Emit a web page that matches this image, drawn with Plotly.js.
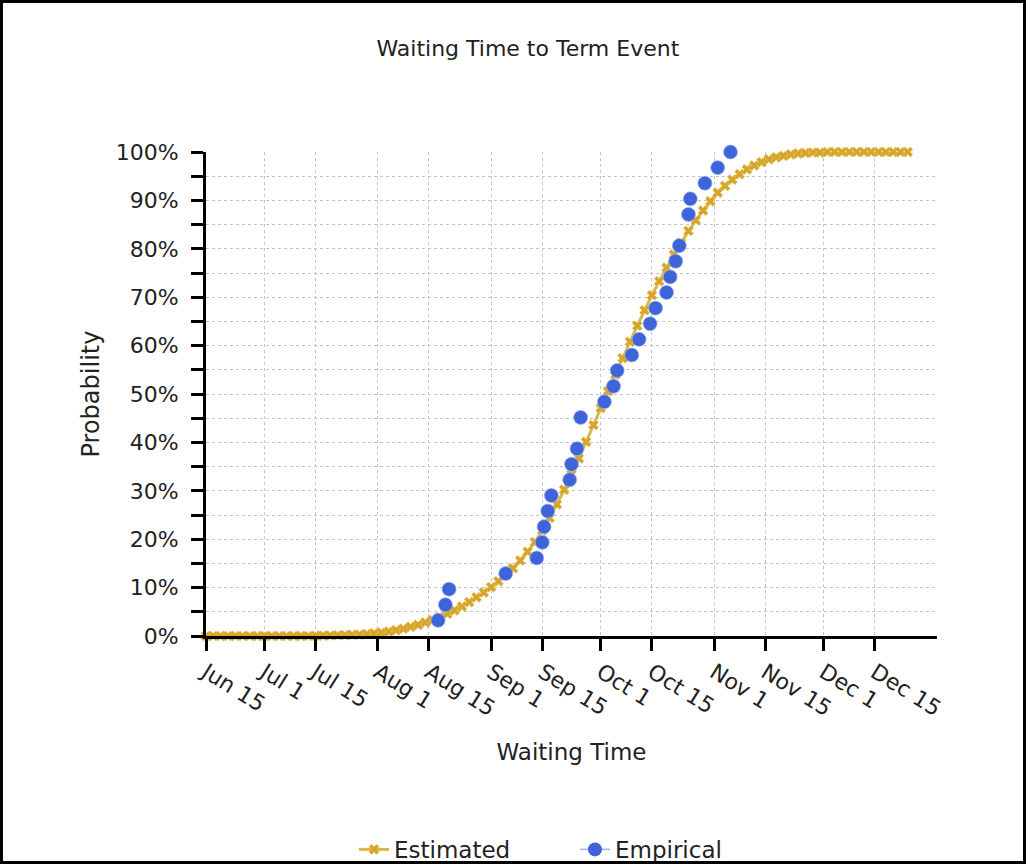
<!DOCTYPE html>
<html>
<head>
<meta charset="utf-8">
<script src="https://cdn.plot.ly/plotly-3.0.1.min.js"></script>
<style>
  html, body { margin: 0; padding: 0; background: #ffffff; }
  #wrap { position: relative; width: 1029px; height: 865px; }
  #chart { width: 1029px; height: 865px; }
  #frame { position: absolute; left: 0; top: 0; width: 1026px; height: 864px;
           border: 3px solid #000; box-sizing: border-box; pointer-events: none; }
</style>
</head>
<body>
<div id="wrap">
  <div id="chart"></div>
  <div id="frame"></div>
</div>
<script>
// ---- Tick labels of the date axis ----
const tickDates = ['2009-06-15','2009-07-01','2009-07-15','2009-08-01','2009-08-15','2009-09-01',
  '2009-09-15','2009-10-01','2009-10-15','2009-11-01','2009-11-15','2009-12-01','2009-12-15'];
const tickLabels = ['Jun 15','Jul 1','Jul 15','Aug 1','Aug 15','Sep 1','Sep 15','Oct 1','Oct 15',
  'Nov 1','Nov 15','Dec 1','Dec 15'];

const yTickVals = [0,10,20,30,40,50,60,70,80,90,100];
const yTickText = ['0%','10%','20%','30%','40%','50%','60%','70%','80%','90%','100%'];

// ---- Estimated curve (every 2 days), probability in % ----
const estDates = [
  '2009-06-15','2009-06-17','2009-06-19','2009-06-21','2009-06-23','2009-06-25','2009-06-27','2009-06-29',
  '2009-07-01','2009-07-03','2009-07-05','2009-07-07','2009-07-09','2009-07-11','2009-07-13','2009-07-15',
  '2009-07-17','2009-07-19','2009-07-21','2009-07-23','2009-07-25','2009-07-27','2009-07-29','2009-07-31',
  '2009-08-02','2009-08-04','2009-08-06','2009-08-08','2009-08-10','2009-08-12','2009-08-14','2009-08-16',
  '2009-08-18','2009-08-20','2009-08-22','2009-08-24','2009-08-26','2009-08-28','2009-08-30',
  '2009-09-01','2009-09-03','2009-09-05','2009-09-07','2009-09-09','2009-09-11','2009-09-13','2009-09-15',
  '2009-09-17','2009-09-19','2009-09-21','2009-09-23','2009-09-25','2009-09-27','2009-09-29',
  '2009-10-01','2009-10-03','2009-10-05','2009-10-07','2009-10-09','2009-10-11','2009-10-13','2009-10-15',
  '2009-10-17','2009-10-19','2009-10-21','2009-10-23','2009-10-25','2009-10-27','2009-10-29','2009-10-31',
  '2009-11-02','2009-11-04','2009-11-06','2009-11-08','2009-11-10','2009-11-12','2009-11-14','2009-11-16',
  '2009-11-18','2009-11-20','2009-11-22','2009-11-24','2009-11-26','2009-11-28','2009-11-30',
  '2009-12-02','2009-12-04','2009-12-06','2009-12-08','2009-12-10','2009-12-12','2009-12-14','2009-12-16',
  '2009-12-18','2009-12-20','2009-12-22','2009-12-24'
];
const estProb = [
  0,0,0,0,0,0,0,0,0,0,0,0,0,0,0,
  0.05,0.07,0.1,0.15,0.2,0.25,0.3,0.4,0.55,0.7,
  0.9,1.2,1.5,1.9,2.3,2.8,3.3,3.9,4.6,5.3,
  6.1,7.0,8.0,9.0,10.1,11.3,12.6,14.0,15.6,17.4,
  19.4,21.8,24.4,27.2,30.2,33.4,36.7,40.1,43.6,47.1,
  50.6,54.0,57.4,60.8,64.1,67.3,70.4,73.3,76.1,78.8,
  81.3,83.7,85.9,87.9,89.8,91.6,93.0,94.3,95.4,96.4,
  97.2,97.9,98.5,98.9,99.2,99.5,99.7,99.8,99.9,99.9,
  100,100,100,100,100,100,100,100,100,100,100,100
];

// ---- Empirical distribution points, probability in % ----
const empDates = [
  '2009-08-17 12:00','2009-08-19 12:00','2009-08-20 12:00','2009-09-05','2009-09-13 12:00',
  '2009-09-15','2009-09-15 12:00','2009-09-16 12:00','2009-09-17 12:00','2009-09-22 12:00',
  '2009-09-23','2009-09-24 12:00','2009-09-25 12:00','2009-10-02','2009-10-04 12:00',
  '2009-10-05 12:00','2009-10-09 12:00','2009-10-11 12:00','2009-10-14 12:00','2009-10-16',
  '2009-10-19','2009-10-20','2009-10-21 12:00','2009-10-22 12:00','2009-10-25',
  '2009-10-25 12:00','2009-10-29 12:00','2009-11-02','2009-11-05 12:00'
];
const empProb = [
  3.23,6.45,9.68,12.90,16.13,
  19.35,22.58,25.81,29.03,32.26,
  35.48,38.71,45.16,48.39,51.61,
  54.84,58.06,61.29,64.52,67.74,
  70.97,74.19,77.42,80.65,87.10,
  90.32,93.55,96.77,100.00
];

const FONT = 'DejaVu Sans, Arial, sans-serif';
const TXT = '#222222';
const GOLD = '#D6A62C';
const BLUE = '#3F63D8';

const traces = [
  {
    name: 'Estimated', x: estDates, y: estProb, type: 'scatter', mode: 'lines+markers',
    line: {color: '#DDB548', width: 3},
    marker: {symbol: 'x', size: 9, color: GOLD, line: {color: '#E8C45A', width: 0.5}},
    cliponaxis: false, hoverinfo: 'skip'
  },
  {
    name: 'Empirical', x: empDates, y: empProb, type: 'scatter', mode: 'markers',
    marker: {symbol: 'circle', size: 14, color: BLUE, line: {color: 'rgba(150,180,240,0.7)', width: 1}},
    cliponaxis: false, showlegend: false, hoverinfo: 'skip'
  },
  {
    name: 'Empirical', x: [null], y: [null], type: 'scatter', mode: 'lines+markers',
    line: {color: '#9DB5EA', width: 1.5},
    marker: {symbol: 'circle', size: 14, color: BLUE},
    hoverinfo: 'skip'
  }
];

const layout = {
  width: 1029, height: 865,
  paper_bgcolor: '#ffffff', plot_bgcolor: '#ffffff',
  margin: {l: 206, r: 92, t: 152, b: 229},
  font: {family: FONT, color: TXT, size: 22},
  title: {
    text: 'Waiting Time to Term Event',
    font: {family: FONT, size: 22, color: TXT},
    xref: 'container', yref: 'container',
    x: 0.513, xanchor: 'center', y: 0.944, yanchor: 'middle'
  },
  xaxis: {
    type: 'date',
    range: ['2009-06-15', '2010-01-01'],
    tickmode: 'array', tickvals: tickDates, ticktext: tickLabels,
    tickangle: 32,
    tickfont: {family: FONT, size: 22, color: TXT},
    ticks: 'outside', ticklen: 12, tickwidth: 3, tickcolor: '#000',
    showline: true, linewidth: 3, linecolor: '#000',
    showgrid: true, gridcolor: '#c4c4c4', gridwidth: 1, griddash: 'dot',
    zeroline: false,
    title: {text: 'Waiting Time', font: {family: FONT, size: 23, color: TXT}, standoff: 24}
  },
  yaxis: {
    range: [0, 100],
    tickmode: 'array', tickvals: yTickVals, ticktext: yTickText,
    tickfont: {family: FONT, size: 22, color: TXT},
    ticks: 'outside', ticklen: 12, tickwidth: 3, tickcolor: '#000',
    ticklabelstandoff: 8,
    showline: true, linewidth: 3, linecolor: '#000',
    showgrid: true, gridcolor: '#c4c4c4', gridwidth: 1, griddash: 'dot',
    zeroline: false,
    minor: {dtick: 5, tick0: 0, ticks: 'outside', ticklen: 12, tickwidth: 3, tickcolor: '#000',
            showgrid: true, gridcolor: '#c4c4c4', gridwidth: 1, griddash: 'dot'},
    title: {text: 'Probability', font: {family: FONT, size: 24, color: TXT}, standoff: 10}
  },
  legend: {
    orientation: 'h',
    xref: 'container', yref: 'container',
    x: 0.344, xanchor: 'left', y: 0.018, yanchor: 'middle',
    entrywidth: 176, entrywidthmode: 'pixels',
    font: {family: FONT, size: 23, color: TXT},
    bgcolor: 'rgba(0,0,0,0)'
  },
  showlegend: true
};

Plotly.newPlot('chart', traces, layout, {displayModeBar: false, staticPlot: true});
</script>
</body>
</html>
